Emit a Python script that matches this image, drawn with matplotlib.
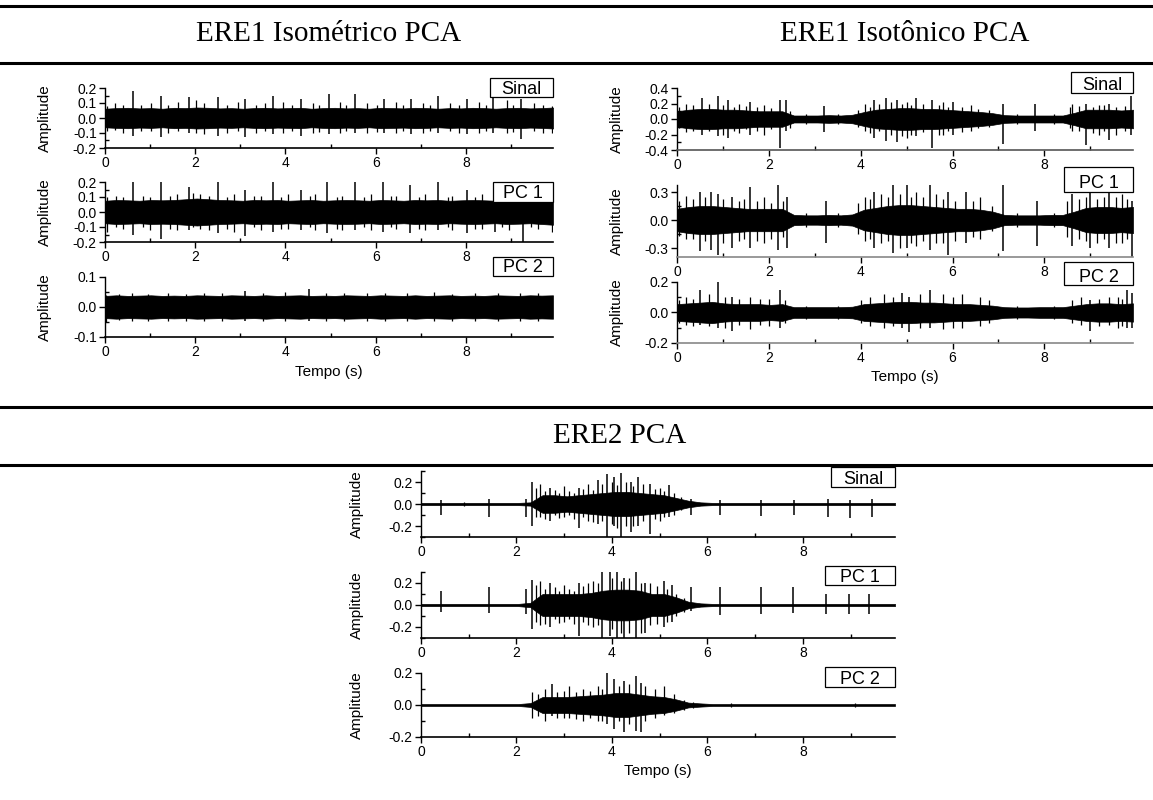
import matplotlib
matplotlib.use("Agg")
import matplotlib.pyplot as plt
import numpy as np
from matplotlib.lines import Line2D
from matplotlib.patches import Rectangle
from matplotlib.ticker import MultipleLocator, FormatStrFormatter

plt.rcParams["font.family"] = ["Liberation Sans", "DejaVu Sans"]
plt.rcParams["axes.unicode_minus"] = False

W, H = 1153, 800
T_END = 9.93

# half-width of the dense part of each trace, one value every ~0.25 s
iso_sinal_band = [0.062, 0.066, 0.068, 0.064, 0.066, 0.062, 0.068, 0.066, 0.07, 0.068,
                  0.064, 0.066, 0.062, 0.066, 0.068, 0.064, 0.066, 0.068, 0.062, 0.066,
                  0.068, 0.064, 0.066, 0.062, 0.068, 0.066, 0.064, 0.068, 0.066, 0.062,
                  0.066, 0.064, 0.068, 0.066, 0.062, 0.066, 0.068, 0.064, 0.066, 0.07]
iso_pc1_band = [0.075, 0.08, 0.078, 0.075, 0.08, 0.078, 0.08, 0.085, 0.09, 0.085,
                0.08, 0.078, 0.075, 0.08, 0.078, 0.08, 0.075, 0.078, 0.08, 0.075,
                0.078, 0.08, 0.078, 0.075, 0.08, 0.078, 0.075, 0.08, 0.078, 0.08,
                0.075, 0.078, 0.08, 0.078, 0.075, 0.08, 0.078, 0.075, 0.08, 0.085]
iso_pc2_band = [0.037, 0.039, 0.037, 0.038, 0.039, 0.037, 0.038, 0.037, 0.039, 0.038,
                0.037, 0.039, 0.038, 0.037, 0.039, 0.037, 0.038, 0.039, 0.037, 0.038,
                0.037, 0.039, 0.038, 0.037, 0.039, 0.038, 0.037, 0.039, 0.037, 0.038,
                0.039, 0.037, 0.038, 0.037, 0.039, 0.038, 0.037, 0.039, 0.038, 0.039]

isot_sinal_band = [0.1, 0.12, 0.13, 0.13, 0.12, 0.12, 0.11, 0.1, 0.1, 0.1,
                   0.045, 0.045, 0.045, 0.05, 0.045, 0.055, 0.09, 0.12, 0.13, 0.14,
                   0.14, 0.13, 0.13, 0.12, 0.11, 0.1, 0.09, 0.075, 0.05, 0.045,
                   0.045, 0.045, 0.045, 0.045, 0.08, 0.12, 0.12, 0.12, 0.11, 0.12]
isot_pc1_band = [0.12, 0.14, 0.15, 0.15, 0.14, 0.13, 0.12, 0.12, 0.12, 0.12,
                 0.055, 0.05, 0.05, 0.055, 0.05, 0.06, 0.11, 0.13, 0.15, 0.16,
                 0.16, 0.15, 0.14, 0.13, 0.12, 0.12, 0.11, 0.09, 0.055, 0.05,
                 0.05, 0.05, 0.055, 0.055, 0.09, 0.13, 0.14, 0.14, 0.13, 0.14]
isot_pc2_band = [0.055, 0.06, 0.065, 0.07, 0.06, 0.055, 0.055, 0.055, 0.05, 0.055,
                 0.035, 0.035, 0.035, 0.035, 0.035, 0.038, 0.055, 0.06, 0.065, 0.07,
                 0.07, 0.065, 0.065, 0.06, 0.055, 0.055, 0.05, 0.045, 0.035, 0.033,
                 0.033, 0.035, 0.035, 0.035, 0.045, 0.055, 0.06, 0.06, 0.055, 0.06]

ere2_sinal_band = [0.01, 0.01, 0.01, 0.01, 0.01, 0.01, 0.01, 0.01, 0.01, 0.015,
                   0.08, 0.08, 0.07, 0.08, 0.09, 0.1, 0.11, 0.11, 0.1, 0.09,
                   0.08, 0.055, 0.03, 0.015, 0.01, 0.01, 0.01, 0.01, 0.01, 0.01,
                   0.01, 0.01, 0.01, 0.01, 0.01, 0.01, 0.01, 0.01, 0.01, 0.01]
ere2_pc1_band = [0.01, 0.01, 0.01, 0.01, 0.01, 0.01, 0.01, 0.01, 0.01, 0.02,
                 0.1, 0.1, 0.1, 0.1, 0.11, 0.13, 0.14, 0.14, 0.13, 0.1,
                 0.1, 0.07, 0.03, 0.015, 0.01, 0.01, 0.01, 0.01, 0.01, 0.01,
                 0.01, 0.01, 0.01, 0.01, 0.01, 0.01, 0.01, 0.01, 0.01, 0.01]
ere2_pc2_band = [0.006, 0.006, 0.006, 0.006, 0.006, 0.006, 0.006, 0.006, 0.006, 0.012,
                 0.05, 0.05, 0.05, 0.055, 0.06, 0.065, 0.075, 0.075, 0.065, 0.055,
                 0.05, 0.035, 0.015, 0.01, 0.006, 0.006, 0.006, 0.006, 0.006, 0.006,
                 0.006, 0.006, 0.006, 0.006, 0.006, 0.006, 0.006, 0.006, 0.006, 0.006]

# tall spikes: (time, top, bottom)
iso_sinal_spikes = [(0.61, 0.18, -0.12), (1.25, 0.15, -0.13), (1.86, 0.14, -0.10), (2.5, 0.14, -0.12),
                    (3.11, 0.13, -0.13), (3.73, 0.15, -0.11), (4.34, 0.13, -0.12), (4.96, 0.16, -0.11),
                    (5.55, 0.16, -0.10), (6.19, 0.13, -0.10), (6.79, 0.13, -0.11), (7.39, 0.15, -0.10),
                    (8.02, 0.13, -0.11), (8.6, 0.14, -0.10), (9.22, 0.13, -0.14)]
iso_pc1_spikes = [(0.61, 0.20, -0.15), (1.25, 0.20, -0.18), (1.86, 0.17, -0.12), (2.5, 0.20, -0.14),
                  (3.11, 0.15, -0.16), (3.73, 0.20, -0.13), (4.34, 0.15, -0.12), (4.93, 0.20, -0.14),
                  (5.55, 0.20, -0.12), (6.16, 0.20, -0.13), (6.76, 0.18, -0.14), (7.39, 0.20, -0.12),
                  (8.03, 0.15, -0.14), (8.65, 0.15, -0.13), (9.26, 0.15, -0.20)]
iso_pc2_spikes = [(3.1, 0.055, -0.045), (4.52, 0.06, -0.045)]

isot_sinal_spikes = [(0.55, 0.27, -0.20), (0.9, 0.30, -0.22), (1.1, 0.24, -0.25), (1.6, 0.22, -0.20),
                     (2.25, 0.25, -0.37), (2.37, 0.25, -0.15), (3.2, 0.17, -0.17), (4.3, 0.25, -0.25),
                     (4.55, 0.27, -0.28), (4.8, 0.25, -0.30), (5.2, 0.27, -0.22), (5.55, 0.25, -0.37),
                     (6.0, 0.22, -0.20), (7.1, 0.20, -0.32), (7.8, 0.20, -0.15), (8.9, 0.20, -0.33),
                     (9.4, 0.20, -0.27), (9.88, 0.30, -0.20)]
isot_pc1_spikes = [(0.5, 0.30, -0.33), (0.75, 0.30, -0.32), (0.9, 0.28, -0.37), (1.2, 0.25, -0.30),
                   (1.6, 0.35, -0.30), (2.2, 0.40, -0.32), (2.4, 0.25, -0.30), (3.25, 0.20, -0.25),
                   (4.3, 0.30, -0.30), (4.7, 0.40, -0.35), (5.0, 0.37, -0.30), (5.5, 0.40, -0.32),
                   (5.9, 0.30, -0.37), (6.3, 0.30, -0.25), (7.1, 0.40, -0.33), (7.85, 0.20, -0.28),
                   (8.6, 0.28, -0.28), (9.0, 0.30, -0.30), (9.4, 0.30, -0.30), (9.9, 0.20, -0.40)]
isot_pc2_spikes = [(0.5, 0.15, -0.08), (0.9, 0.20, -0.10), (1.2, 0.10, -0.12), (2.25, 0.15, -0.10),
                   (4.9, 0.13, -0.10), (5.05, 0.10, -0.13), (5.5, 0.15, -0.10), (9.0, 0.08, -0.12),
                   (9.8, 0.15, -0.10), (9.9, 0.13, -0.10)]

ere2_sinal_spikes = [(0.42, 0.04, -0.10), (1.43, 0.05, -0.12), (2.19, 0.05, -0.12), (5.65, 0.05, -0.10),
                     (6.27, 0.04, -0.10), (7.13, 0.04, -0.11), (7.82, 0.04, -0.10), (8.52, 0.05, -0.12),
                     (8.98, 0.04, -0.13), (9.44, 0.05, -0.12),
                     (2.33, 0.20, -0.20), (2.7, 0.15, -0.15), (3.3, 0.15, -0.22), (3.7, 0.22, -0.18),
                     (3.9, 0.27, -0.30), (4.05, 0.25, -0.20), (4.2, 0.28, -0.30), (4.4, 0.20, -0.25),
                     (4.55, 0.25, -0.20), (4.8, 0.18, -0.27), (5.2, 0.17, -0.12)]
ere2_pc1_spikes = [(0.42, 0.13, -0.06), (1.43, 0.16, -0.07), (2.19, 0.15, -0.08), (5.65, 0.16, -0.05),
                   (6.27, 0.16, -0.09), (7.13, 0.16, -0.08), (7.8, 0.16, -0.07), (8.48, 0.10, -0.08),
                   (8.96, 0.10, -0.08), (9.38, 0.10, -0.08),
                   (2.33, 0.23, -0.22), (2.7, 0.20, -0.20), (3.3, 0.20, -0.28), (3.8, 0.30, -0.30),
                   (3.95, 0.30, -0.28), (4.1, 0.30, -0.30), (4.25, 0.25, -0.30), (4.5, 0.30, -0.30),
                   (4.7, 0.20, -0.25), (5.1, 0.22, -0.20), (5.25, 0.18, -0.15)]
ere2_pc2_spikes = [(2.75, 0.13, -0.07), (3.9, 0.20, -0.12), (4.05, 0.16, -0.15), (4.25, 0.15, -0.17),
                   (4.5, 0.18, -0.16), (4.6, 0.14, -0.17)]

# shorter hairs around the dense band: (time, top, bottom)
iso_sinal_hairs = [(0.05, 0.08, -0.09), (0.22, 0.1, -0.08), (0.4, 0.085, -0.1), (0.8, 0.09, -0.085),
                   (1.02, 0.1, -0.09), (1.4, 0.085, -0.1), (1.62, 0.11, -0.085), (2.02, 0.12, -0.1),
                   (2.2, 0.1, -0.11), (2.7, 0.09, -0.1), (2.95, 0.11, -0.09), (3.35, 0.09, -0.1),
                   (3.55, 0.1, -0.085), (3.95, 0.11, -0.1), (4.15, 0.09, -0.09), (4.6, 0.1, -0.1),
                   (4.75, 0.085, -0.095), (5.2, 0.11, -0.1), (5.35, 0.09, -0.085), (5.8, 0.1, -0.1),
                   (6.02, 0.085, -0.095), (6.45, 0.11, -0.1), (6.6, 0.09, -0.085), (7.05, 0.1, -0.1),
                   (7.2, 0.085, -0.09), (7.65, 0.1, -0.09), (7.85, 0.09, -0.1), (8.3, 0.11, -0.1),
                   (8.45, 0.09, -0.085), (8.9, 0.12, -0.1), (9.05, 0.09, -0.095), (9.5, 0.1, -0.09),
                   (9.7, 0.085, -0.1), (9.9, 0.08, -0.1)]
iso_pc1_hairs = [(0.05, 0.1, -0.13), (0.25, 0.11, -0.1), (0.4, 0.1, -0.11), (0.85, 0.11, -0.1),
                 (1.0, 0.1, -0.12), (1.45, 0.11, -0.11), (1.6, 0.12, -0.12), (1.95, 0.13, -0.1),
                 (2.1, 0.12, -0.11), (2.3, 0.11, -0.12), (2.7, 0.1, -0.11), (2.85, 0.12, -0.13),
                 (3.3, 0.11, -0.1), (3.45, 0.11, -0.12), (3.9, 0.1, -0.11), (4.05, 0.12, -0.11),
                 (4.55, 0.11, -0.1), (4.65, 0.12, -0.12), (5.15, 0.1, -0.11), (5.25, 0.11, -0.12),
                 (5.75, 0.1, -0.1), (5.9, 0.12, -0.12), (6.35, 0.11, -0.1), (6.45, 0.11, -0.11),
                 (6.95, 0.1, -0.11), (7.1, 0.12, -0.12), (7.6, 0.1, -0.1), (7.7, 0.11, -0.12),
                 (8.2, 0.1, -0.11), (8.35, 0.12, -0.11), (8.8, 0.1, -0.1), (8.95, 0.12, -0.12),
                 (9.45, 0.1, -0.1), (9.6, 0.1, -0.11), (9.9, 0.1, -0.13)]
iso_pc2_hairs = [(0.02, 0.04, -0.05), (0.3, 0.045, -0.044), (0.6, 0.048, -0.048), (0.95, 0.045, -0.045),
                 (1.4, 0.047, -0.046), (1.8, 0.045, -0.047), (2.2, 0.046, -0.045), (2.6, 0.047, -0.046),
                 (3.5, 0.046, -0.045), (4.0, 0.05, -0.045), (4.9, 0.046, -0.046), (5.3, 0.048, -0.047),
                 (5.8, 0.046, -0.045), (6.2, 0.047, -0.048), (6.7, 0.046, -0.045), (7.3, 0.05, -0.046),
                 (7.7, 0.045, -0.046), (8.2, 0.048, -0.047), (8.7, 0.046, -0.045), (9.2, 0.048, -0.046),
                 (9.6, 0.046, -0.045)]

isot_sinal_hairs = [(0.05, 0.15, -0.12), (0.2, 0.2, -0.17), (0.35, 0.18, -0.15), (0.7, 0.2, -0.16),
                    (1.0, 0.18, -0.2), (1.25, 0.16, -0.15), (1.35, 0.2, -0.18), (1.5, 0.17, -0.13),
                    (1.75, 0.15, -0.16), (1.9, 0.18, -0.2), (2.05, 0.14, -0.13), (2.45, 0.1, -0.12),
                    (2.8, 0.06, -0.06), (3.5, 0.06, -0.07), (3.95, 0.12, -0.1), (4.1, 0.2, -0.15),
                    (4.2, 0.16, -0.18), (4.4, 0.2, -0.16), (4.65, 0.22, -0.2), (4.9, 0.2, -0.22),
                    (5.0, 0.22, -0.25), (5.1, 0.18, -0.2), (5.35, 0.2, -0.17), (5.7, 0.18, -0.2),
                    (5.8, 0.22, -0.2), (5.9, 0.16, -0.15), (6.2, 0.15, -0.17), (6.4, 0.18, -0.15),
                    (6.55, 0.13, -0.12), (6.8, 0.12, -0.1), (7.4, 0.06, -0.06), (8.2, 0.07, -0.06),
                    (8.55, 0.15, -0.12), (8.6, 0.2, -0.15), (8.75, 0.17, -0.15), (9.05, 0.16, -0.18),
                    (9.2, 0.18, -0.2), (9.3, 0.18, -0.15), (9.55, 0.16, -0.2), (9.75, 0.17, -0.15)]
isot_pc1_hairs = [(0.05, 0.2, -0.17), (0.2, 0.26, -0.2), (0.35, 0.22, -0.2), (0.62, 0.25, -0.22),
                  (1.0, 0.22, -0.25), (1.35, 0.2, -0.22), (1.45, 0.22, -0.2), (1.75, 0.2, -0.22),
                  (1.9, 0.25, -0.25), (2.05, 0.18, -0.2), (2.3, 0.2, -0.18), (2.8, 0.07, -0.07),
                  (3.5, 0.07, -0.08), (3.95, 0.18, -0.15), (4.1, 0.25, -0.22), (4.2, 0.22, -0.2),
                  (4.45, 0.28, -0.25), (4.6, 0.25, -0.22), (4.85, 0.28, -0.3), (5.1, 0.25, -0.25),
                  (5.2, 0.3, -0.28), (5.35, 0.25, -0.22), (5.65, 0.28, -0.25), (5.8, 0.22, -0.25),
                  (6.05, 0.2, -0.22), (6.45, 0.2, -0.18), (6.6, 0.25, -0.2), (6.85, 0.15, -0.12),
                  (7.4, 0.07, -0.07), (8.2, 0.08, -0.07), (8.5, 0.2, -0.18), (8.75, 0.22, -0.2),
                  (8.9, 0.25, -0.22), (9.15, 0.22, -0.25), (9.3, 0.25, -0.2), (9.55, 0.25, -0.25),
                  (9.7, 0.28, -0.25), (9.8, 0.22, -0.2)]
isot_pc2_hairs = [(0.05, 0.08, -0.07), (0.2, 0.1, -0.08), (0.35, 0.09, -0.09), (0.7, 0.12, -0.09),
                  (1.05, 0.1, -0.1), (1.35, 0.09, -0.08), (1.6, 0.1, -0.11), (1.8, 0.09, -0.08),
                  (2.0, 0.09, -0.09), (2.35, 0.08, -0.07), (2.8, 0.042, -0.042), (3.5, 0.042, -0.045),
                  (4.0, 0.08, -0.07), (4.2, 0.1, -0.09), (4.5, 0.12, -0.1), (4.7, 0.1, -0.09),
                  (5.3, 0.12, -0.1), (5.8, 0.12, -0.11), (6.0, 0.1, -0.1), (6.2, 0.12, -0.1),
                  (6.6, 0.1, -0.09), (6.8, 0.08, -0.07), (7.4, 0.042, -0.042), (8.2, 0.045, -0.042),
                  (8.6, 0.08, -0.07), (8.8, 0.1, -0.08), (9.2, 0.09, -0.09), (9.4, 0.1, -0.08),
                  (9.6, 0.1, -0.1), (9.7, 0.09, -0.09)]

ere2_sinal_hairs = [(2.4, 0.15, -0.12), (2.5, 0.18, -0.12), (2.6, 0.12, -0.14), (2.8, 0.13, -0.1),
                    (2.9, 0.1, -0.13), (3.0, 0.16, -0.12), (3.1, 0.12, -0.1), (3.2, 0.1, -0.14),
                    (3.4, 0.14, -0.12), (3.5, 0.18, -0.15), (3.6, 0.13, -0.16), (3.8, 0.18, -0.15),
                    (4.0, 0.2, -0.18), (4.1, 0.17, -0.22), (4.3, 0.2, -0.2), (4.45, 0.16, -0.2),
                    (4.65, 0.18, -0.15), (4.9, 0.14, -0.14), (5.0, 0.15, -0.15), (5.1, 0.12, -0.12),
                    (5.3, 0.1, -0.1), (5.45, 0.06, -0.05), (5.6, 0.03, -0.03), (0.9, 0.015, -0.015),
                    (3.55, 0.015, -0.015)]
ere2_pc1_hairs = [(2.4, 0.18, -0.15), (2.5, 0.22, -0.18), (2.6, 0.15, -0.17), (2.8, 0.16, -0.13),
                  (2.9, 0.13, -0.16), (3.0, 0.18, -0.15), (3.1, 0.15, -0.13), (3.2, 0.13, -0.17),
                  (3.4, 0.17, -0.15), (3.5, 0.2, -0.18), (3.6, 0.22, -0.2), (3.7, 0.2, -0.18),
                  (4.0, 0.25, -0.22), (4.2, 0.22, -0.25), (4.35, 0.25, -0.25), (4.6, 0.2, -0.25),
                  (4.8, 0.2, -0.18), (4.95, 0.17, -0.17), (5.15, 0.15, -0.15), (5.35, 0.1, -0.1),
                  (5.5, 0.06, -0.06), (5.6, 0.03, -0.03)]
ere2_pc2_hairs = [(2.33, 0.08, -0.08), (2.45, 0.07, -0.07), (2.6, 0.1, -0.1), (2.85, 0.08, -0.08),
                  (3.0, 0.09, -0.08), (3.1, 0.12, -0.08), (3.25, 0.08, -0.09), (3.4, 0.1, -0.1),
                  (3.55, 0.09, -0.08), (3.7, 0.12, -0.1), (3.8, 0.1, -0.1), (4.15, 0.12, -0.1),
                  (4.35, 0.13, -0.12), (4.7, 0.12, -0.1), (4.9, 0.1, -0.08), (5.1, 0.12, -0.06),
                  (5.3, 0.07, -0.05), (5.5, 0.03, -0.03), (5.7, 0.02, -0.02), (3.05, 0.012, -0.012),
                  (6.5, 0.012, -0.012), (9.1, 0.012, -0.012)]

time_ticks = [0, 2, 4, 6, 8]
box_labels = ["Sinal", "PC 1", "PC 2"]


def px(x, y):
    return x / W, 1 - y / H


def add_panel(fig, rect, band, spikes, hairs, ylim, major, minor, spine_color="black"):
    x0, y0, x1, y1 = rect
    left, bottom = px(x0, y1)
    ax = fig.add_axes([left, bottom, (x1 - x0) / W, (y1 - y0) / H])
    t = np.linspace(0, T_END, len(band))
    b = np.asarray(band)
    ax.fill_between(t, -b, b, color="black", linewidth=0.5)
    ht, hhi, hlo = zip(*hairs)
    ax.vlines(ht, hlo, hhi, color="black", linewidth=0.9)
    st, hi, lo = zip(*spikes)
    ax.vlines(st, lo, hi, color="black", linewidth=1.1)
    ax.set_xlim(0, T_END)
    ax.set_ylim(*ylim)
    ax.set_xticks(time_ticks)
    ax.xaxis.set_minor_locator(MultipleLocator(1))
    ax.yaxis.set_major_locator(MultipleLocator(major))
    ax.yaxis.set_minor_locator(MultipleLocator(minor))
    ax.yaxis.set_major_formatter(FormatStrFormatter("%.1f"))
    for side in ("top", "right"):
        ax.spines[side].set_visible(False)
    ax.spines["left"].set_linewidth(1.0)
    ax.spines["bottom"].set_linewidth(1.2)
    ax.spines["bottom"].set_color(spine_color)
    ax.tick_params(which="major", direction="out", length=4, width=1, labelsize=10, pad=2)
    ax.tick_params(which="minor", direction="in", length=3, width=1)
    ax.patch.set_alpha(0)
    return ax


def add_box(fig, rect, text, size=13):
    x0, y0, x1, y1 = rect
    left, bottom = px(x0, y1)
    fig.add_artist(Rectangle((left, bottom), (x1 - x0) / W, (y1 - y0) / H,
                             transform=fig.transFigure, facecolor="white",
                             edgecolor="black", linewidth=0.9, zorder=5))
    # baseline a few pixels above the lower edge, letters fill the box
    fig.text(*px((x0 + x1) / 2, y1 - 3.5), text, ha="center", va="baseline",
             fontsize=size, zorder=6)


fig = plt.figure(figsize=(W / 100, H / 100), dpi=100)

for y in (6, 63, 407, 465):
    fig.add_artist(Line2D([0, 1], [1 - y / H, 1 - y / H], transform=fig.transFigure,
                          color="black", linewidth=2.2))

title_font = dict(family=["Liberation Serif", "DejaVu Serif"], fontsize=21, ha="center", va="center")
fig.text(*px(329, 34), "ERE1 Isométrico PCA", **title_font)
fig.text(*px(905, 34), "ERE1 Isotônico PCA", **title_font)
fig.text(*px(620, 436), "ERE2 PCA", **title_font)

groups = [
    {
        "x": (105, 553), "ylab_x": 45, "tempo_y": 372,
        "rows": [(88, 148), (182, 242), (277, 337)],
        "bands": [iso_sinal_band, iso_pc1_band, iso_pc2_band],
        "spikes": [iso_sinal_spikes, iso_pc1_spikes, iso_pc2_spikes],
        "hairs": [iso_sinal_hairs, iso_pc1_hairs, iso_pc2_hairs],
        "ylims": [(-0.2, 0.2), (-0.2, 0.2), (-0.1, 0.1)],
        "major": [0.1, 0.1, 0.1], "minor": [0.05, 0.05, 0.05],
        "spine": ["black", "black", "black"],
        "boxes": [(490, 78, 553, 97), (493, 182, 553, 202), (493, 257, 553, 276)],
    },
    {
        "x": (677, 1133), "ylab_x": 617, "tempo_y": 377,
        "rows": [(88, 150), (185, 257), (282, 343)],
        "bands": [isot_sinal_band, isot_pc1_band, isot_pc2_band],
        "spikes": [isot_sinal_spikes, isot_pc1_spikes, isot_pc2_spikes],
        "hairs": [isot_sinal_hairs, isot_pc1_hairs, isot_pc2_hairs],
        "ylims": [(-0.4, 0.4), (-0.396, 0.375), (-0.2, 0.2)],
        "major": [0.2, 0.3, 0.2], "minor": [0.1, 0.15, 0.1],
        "spine": ["#555555", "#888888", "#888888"],
        "boxes": [(1071, 72, 1133, 93), (1064, 167, 1133, 192), (1064, 262, 1133, 285)],
    },
    {
        "x": (421, 895), "ylab_x": 357, "tempo_y": 771,
        "rows": [(471, 537), (572, 638), (673, 737)],
        "bands": [ere2_sinal_band, ere2_pc1_band, ere2_pc2_band],
        "spikes": [ere2_sinal_spikes, ere2_pc1_spikes, ere2_pc2_spikes],
        "hairs": [ere2_sinal_hairs, ere2_pc1_hairs, ere2_pc2_hairs],
        "ylims": [(-0.3, 0.3), (-0.3, 0.3), (-0.2, 0.2)],
        "major": [0.2, 0.2, 0.2], "minor": [0.1, 0.1, 0.1],
        "spine": ["black", "black", "black"],
        "boxes": [(831, 467, 895, 487), (825, 566, 895, 585), (825, 667, 895, 687)],
    },
]

for g in groups:
    x0, x1 = g["x"]
    for i, (y0, y1) in enumerate(g["rows"]):
        add_panel(fig, (x0, y0, x1, y1), g["bands"][i], g["spikes"][i], g["hairs"][i],
                  g["ylims"][i], g["major"][i], g["minor"][i], g["spine"][i])
        fig.text(*px(g["ylab_x"], (y0 + y1) / 2), "Amplitude", rotation=90,
                 ha="center", va="center", fontsize=11)
        add_box(fig, g["boxes"][i], box_labels[i])
    fig.text(*px((x0 + x1) / 2, g["tempo_y"]), "Tempo (s)", ha="center", va="center", fontsize=11)

fig.savefig("out.png", dpi=100)
